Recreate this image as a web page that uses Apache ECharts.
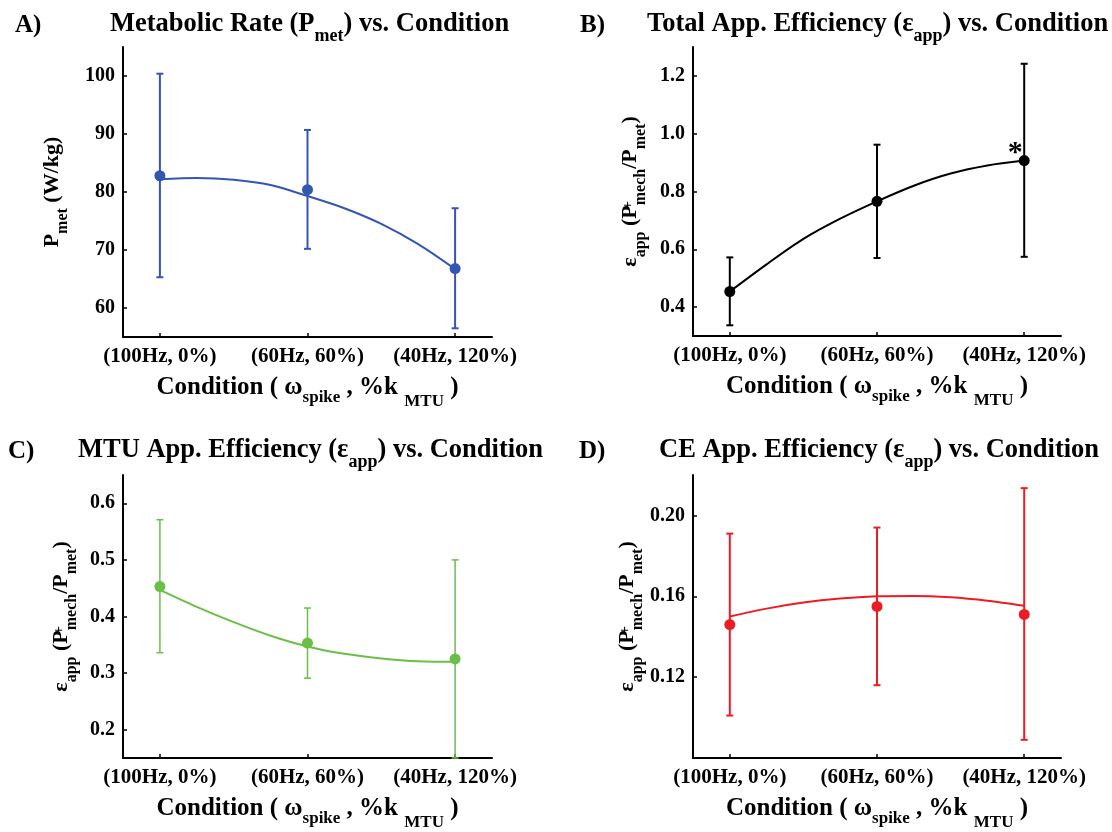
<!DOCTYPE html>
<html><head><meta charset="utf-8">
<script src="https://cdn.jsdelivr.net/npm/echarts@6/dist/echarts.min.js"></script>
<style>html,body{margin:0;padding:0;background:#fff}#c{width:1112px;height:832px}</style>
</head><body><div id="c"></div>
<script>
// ---------------- data ----------------
const conditions = ['(100Hz, 0%)', '(60Hz, 60%)', '(40Hz, 120%)'];
const conditionX = [1, 2, 3];
const fitX = [1, 1.25, 1.5, 1.75, 2, 2.25, 2.5, 2.75, 3];

// A) Metabolic rate
const metMean  = [82.8, 80.4, 66.8];
const metUpper = [100.4, 90.7, 77.2];
const metLower = [65.3, 70.2, 56.5];
const metFit   = [82.2, 82.4, 82.1, 81.2, 79.3, 77.2, 74.5, 71.0, 66.7];
const metTicks = [60, 70, 80, 90, 100];

// B) Total apparent efficiency
const totMean  = [0.454, 0.766, 0.907];
const totUpper = [0.572, 0.962, 1.242];
const totLower = [0.337, 0.570, 0.574];
const totFit   = [0.454, 0.548, 0.636, 0.706, 0.766, 0.820, 0.862, 0.890, 0.907];
const totTicks = [0.4, 0.6, 0.8, 1.0, 1.2];

// C) MTU apparent efficiency
const mtuMean  = [0.453, 0.353, 0.325];
const mtuUpper = [0.571, 0.415, 0.500];
const mtuLower = [0.336, 0.291, 0.150];
const mtuFit   = [0.447, 0.417, 0.390, 0.366, 0.347, 0.334, 0.326, 0.321, 0.320];
const mtuTicks = [0.2, 0.3, 0.4, 0.5, 0.6];

// D) CE apparent efficiency
const ceMean  = [0.146, 0.155, 0.151];
const ceUpper = [0.191, 0.194, 0.2135];
const ceLower = [0.101, 0.116, 0.089];
const ceFit   = [0.150, 0.1539, 0.1569, 0.1589, 0.1600, 0.1602, 0.1595, 0.1578, 0.1553];
const ceTicks = [0.12, 0.16, 0.20];

// ---------------- styling / layout ----------------
const FONT = '"Liberation Serif", "Times New Roman", serif';
const B = {fontFamily: FONT, fontWeight: 'bold', color: '#000'};

const titleRich = {
  m: Object.assign({fontSize: 26.5, lineHeight: 30, verticalAlign: 'top', padding: [5, 0, 0, 0]}, B),
  s: Object.assign({fontSize: 18, lineHeight: 18, verticalAlign: 'top', padding: [21, 0, 0, 0]}, B)
};
const xNameRich = {
  n: Object.assign({fontSize: 25, lineHeight: 30, verticalAlign: 'top', padding: [5, 0, 0, 0]}, B),
  a: Object.assign({fontSize: 17, lineHeight: 17, verticalAlign: 'top', padding: [19, 0, 0, 0]}, B),
  b: Object.assign({fontSize: 17, lineHeight: 17, verticalAlign: 'top', padding: [23, 0, 0, 0]}, B)
};
const yNameRich = {
  m: Object.assign({fontSize: 22, lineHeight: 26, verticalAlign: 'top', padding: [4, 0, 0, 0]}, B),
  s: Object.assign({fontSize: 16, lineHeight: 16, verticalAlign: 'top', padding: [18, 0, 0, 0]}, B),
  p: Object.assign({fontSize: 15, lineHeight: 15, verticalAlign: 'top', padding: [6, 0, 0, 0], width: 0}, B)
};

const xName = '{n|Condition ( ω}{a|spike}{n| , %k }{b|MTU}{n| )}';
const effName = '{m|ε}{s|app}{m| (P}{p|+}{s|mech}{m|/P}{s|met}{m|)}';

const panels = [
  {letter: 'A)', letterLeft: 15, title: '{m|Metabolic Rate (P}{s|met}{m|) vs. Condition}', titleLeft: 110, top: 6,
   grid: {left: 123, top: 47, width: 369, height: 290}, yMin: 55, yMax: 105, ticks: metTicks, dec: 0,
   yName: '{m|P}{s|met}{m| (W/kg)}', yGap: 60,
   mean: metMean, upper: metUpper, lower: metLower, fit: metFit, color: '#3456b3', ew: 2},
  {letter: 'B)', letterLeft: 580, title: '{m|Total App. Efficiency (ε}{s|app}{m|) vs. Condition}', titleLeft: 647, top: 6,
   grid: {left: 693, top: 47, width: 368, height: 289}, yMin: 0.3, yMax: 1.3, ticks: totTicks, dec: 1,
   yName: effName, yGap: 52,
   mean: totMean, upper: totUpper, lower: totLower, fit: totFit, color: '#000000', ew: 2, star: true},
  {letter: 'C)', letterLeft: 8, title: '{m|MTU App. Efficiency (ε}{s|app}{m|) vs. Condition}', titleLeft: 78, top: 432,
   grid: {left: 123, top: 475, width: 369, height: 290}, yMin: 0.15, yMax: 0.65, ticks: mtuTicks, dec: 1,
   yName: effName, yGap: 51,
   mean: mtuMean, upper: mtuUpper, lower: mtuLower, fit: mtuFit, color: '#6abf48', ew: 1.5},
  {letter: 'D)', letterLeft: 579, title: '{m|CE App. Efficiency (ε}{s|app}{m|) vs. Condition}', titleLeft: 659, top: 432,
   grid: {left: 693, top: 475, width: 368, height: 290}, yMin: 0.08, yMax: 0.22, ticks: ceTicks, dec: 2,
   yName: effName, yGap: 53,
   mean: ceMean, upper: ceUpper, lower: ceLower, fit: ceFit, color: '#ed1c24', ew: 2}
];

const option = {
  backgroundColor: '#fff',
  animation: false,
  title: [], grid: [], xAxis: [], yAxis: [], series: []
};

panels.forEach((p, i) => {
  option.title.push({text: p.letter, left: p.letterLeft, top: p.top + 5, padding: 0,
    textStyle: Object.assign({fontSize: 25, lineHeight: 30}, B)});
  option.title.push({text: p.title, left: p.titleLeft, top: p.top, padding: 0,
    textStyle: {rich: titleRich}});
  option.grid.push(Object.assign({containLabel: false}, p.grid));
  option.xAxis.push({
    type: 'value', gridIndex: i, min: 0.75, max: 3.25,
    axisLine: {show: true, onZero: false, lineStyle: {color: '#000', width: 2}},
    axisTick: {show: true, inside: true, length: 4, customValues: conditionX, lineStyle: {color: '#000', width: 1.5}},
    axisLabel: {customValues: conditionX, margin: 9, fontSize: 21, fontFamily: FONT, fontWeight: 'bold', color: '#000',
      formatter: v => conditions[Math.round(v) - 1]},
    splitLine: {show: false},
    name: xName, nameLocation: 'middle', nameGap: 33,
    nameTextStyle: {rich: xNameRich}
  });
  option.yAxis.push({
    type: 'value', gridIndex: i, min: p.yMin, max: p.yMax,
    axisLine: {show: true, onZero: false, lineStyle: {color: '#000', width: 2}},
    axisTick: {show: true, inside: true, length: 4, customValues: p.ticks, lineStyle: {color: '#000', width: 1.5}},
    axisLabel: {customValues: p.ticks, margin: 8, fontSize: 20, fontFamily: FONT, fontWeight: 'bold', color: '#000',
      formatter: v => Number(v).toFixed(p.dec)},
    splitLine: {show: false},
    name: p.yName, nameLocation: 'middle', nameRotate: 90, nameGap: p.yGap,
    nameTextStyle: {rich: yNameRich}
  });
  const color = p.color, ew = p.ew;
  option.series.push({
    type: 'custom', xAxisIndex: i, yAxisIndex: i, silent: true, z: 2,
    data: conditionX.map((x, k) => [x, p.lower[k], p.upper[k]]),
    renderItem: (params, api) => {
      const lo = api.coord([api.value(0), api.value(1)]);
      const hi = api.coord([api.value(0), api.value(2)]);
      const hw = 3.5;
      const style = {stroke: color, lineWidth: ew, fill: null};
      return {type: 'group', children: [
        {type: 'line', shape: {x1: lo[0], y1: lo[1], x2: hi[0], y2: hi[1]}, style},
        {type: 'line', shape: {x1: lo[0] - hw, y1: lo[1], x2: lo[0] + hw, y2: lo[1]}, style},
        {type: 'line', shape: {x1: hi[0] - hw, y1: hi[1], x2: hi[0] + hw, y2: hi[1]}, style}
      ]};
    }
  });
  option.series.push({
    type: 'line', xAxisIndex: i, yAxisIndex: i, smooth: 0.3, showSymbol: false, silent: true, z: 3,
    data: fitX.map((x, k) => [x, p.fit[k]]),
    lineStyle: {color: color, width: 2}
  });
  option.series.push({
    type: 'scatter', xAxisIndex: i, yAxisIndex: i, symbol: 'circle', symbolSize: 11, silent: true, z: 4,
    itemStyle: {color: color, opacity: 1},
    data: conditionX.map((x, k) => {
      const d = {value: [x, p.mean[k]]};
      if (p.star && k === 2) {
        d.label = {show: true, formatter: '*', position: 'top', distance: 0, offset: [-9, 13],
          fontSize: 30, fontFamily: FONT, fontWeight: 'bold', color: '#000'};
      }
      return d;
    })
  });
});

const chart = echarts.init(document.getElementById('c'), null, {renderer: 'canvas'});
chart.setOption(option);
</script>
</body></html>
